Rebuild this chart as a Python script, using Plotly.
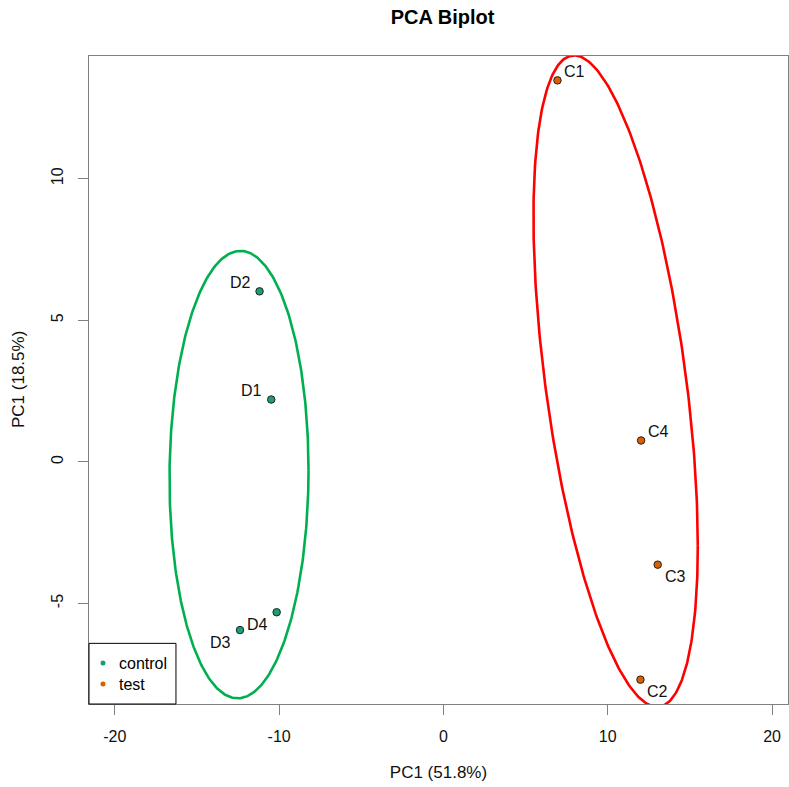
import numpy as np
import plotly.graph_objects as go

# ---- data ----
sample_names = ["C1", "C2", "C3", "C4", "D1", "D2", "D3", "D4"]
groups = ["test", "test", "test", "test", "control", "control", "control", "control"]
pc1 = [6.94, 11.99, 13.04, 12.03, -10.48, -11.19, -12.38, -10.15]
pc2 = [13.47, -7.69, -3.63, 0.755, 2.20, 6.02, -5.94, -5.31]
label_positions = ["top right", "bottom right", "bottom right", "top right",
                   "top left", "top left", "bottom left", "bottom left"]

group_names = ["control", "test"]
group_colors = {"control": "#1B9E77", "test": "#D95F02"}

# ellipse parameters: centre, half extents and correlation
ellipse_groups = ["control", "test"]
ellipse_cx = [-12.44, 10.48]
ellipse_cy = [-0.45, 2.85]
ellipse_sx = [4.23, 5.00]
ellipse_sy = [7.90, 11.50]
ellipse_r = [0.02, -0.505]
ellipse_colors = {"control": "#00B050", "test": "#FF0000"}

x_ticks = [-20, -10, 0, 10, 20]
y_ticks = [-5, 0, 5, 10]

FONT = "Liberation Sans, Arial, sans-serif"

fig = go.Figure()

# ellipses
t = np.linspace(0, 2 * np.pi, 361)
for g, cx, cy, sx, sy, r in zip(ellipse_groups, ellipse_cx, ellipse_cy,
                                ellipse_sx, ellipse_sy, ellipse_r):
    ex = cx + sx * np.cos(t)
    ey = cy + sy * (r * np.cos(t) + np.sqrt(1 - r * r) * np.sin(t))
    fig.add_trace(go.Scatter(x=ex, y=ey, mode="lines",
                             line=dict(color=ellipse_colors[g], width=2.6),
                             hoverinfo="skip", showlegend=False))

# points
for g in group_names:
    idx = [i for i, gg in enumerate(groups) if gg == g]
    fig.add_trace(go.Scatter(
        x=[pc1[i] for i in idx], y=[pc2[i] for i in idx],
        mode="markers",
        marker=dict(color=group_colors[g], size=7.5,
                    line=dict(color="#222222", width=1)),
        name=g, showlegend=False))

annotations = []
# point labels
for name, xx, yy, pos in zip(sample_names, pc1, pc2, label_positions):
    vert, horiz = pos.split()
    annotations.append(dict(
        x=xx, y=yy, xref="x", yref="y", text=name, showarrow=False,
        xanchor="left" if horiz == "right" else "right", yanchor="middle",
        xshift=5 if horiz == "right" else -7,
        yshift=9 if vert == "top" else -12,
        font=dict(family=FONT, size=16, color="#111111")))

# y axis title (R style, placed at the outer margin)
annotations.append(dict(xref="paper", yref="paper", x=0, y=0.5,
                        text="PC1 (18.5%)", showarrow=False, textangle=-90,
                        xanchor="center", yanchor="middle", xshift=-71,
                        font=dict(family=FONT, size=17, color="#111111")))

# manual legend (R style box in lower-left corner)
legend_w = 0.1244
legend_h = 0.0936
shapes = [dict(type="rect", xref="paper", yref="paper", x0=0, y0=0,
               x1=legend_w, y1=legend_h, line=dict(color="#000000", width=1),
               fillcolor="white", layer="above")]
legend_rows_y = [0.0632, 0.0308]
for g, yy in zip(group_names, legend_rows_y):
    shapes.append(dict(type="circle", xref="paper", yref="paper",
                       xsizemode="pixel", ysizemode="pixel",
                       xanchor=0.02, yanchor=yy,
                       x0=-2.5, x1=2.5, y0=-2.5, y1=2.5,
                       fillcolor=group_colors[g], line=dict(width=0),
                       layer="above"))
    annotations.append(dict(xref="paper", yref="paper", x=0.0434, y=yy,
                            text=g, showarrow=False, xanchor="left",
                            yanchor="middle", xshift=-2,
                            font=dict(family=FONT, size=16, color="#000000")))

axis_common = dict(showline=True, mirror=True, linecolor="#808080",
                   linewidth=1.3, ticks="outside", ticklen=10,
                   tickcolor="#808080", tickwidth=1.3, showgrid=False,
                   zeroline=False, tickfont=dict(family=FONT, size=16,
                                                 color="#111111"))

fig.update_layout(
    width=789, height=787,
    margin=dict(l=89, r=1, t=56, b=83),
    paper_bgcolor="white", plot_bgcolor="white",
    title=dict(text="<b>PCA Biplot</b>", x=0.561, xanchor="center",
               y=0.979, yanchor="middle",
               font=dict(family=FONT, size=20, color="#000000")),
    xaxis=dict(range=[-21.57, 20.97], tickvals=x_ticks,
               ticktext=[str(v) for v in x_ticks],
               title=dict(text="PC1 (51.8%)", standoff=21,
                          font=dict(family=FONT, size=17, color="#111111")),
               ticklabelstandoff=8,
               **axis_common),
    yaxis=dict(range=[-8.55, 14.33], tickvals=y_ticks,
               ticktext=[str(v) for v in y_ticks], tickangle=-90,
               ticklabelstandoff=8,
               **axis_common),
    shapes=shapes, annotations=annotations,
    showlegend=False,
)

fig.write_html("out.html", config={"displayModeBar": False},
               post_script="document.body.style.margin='0';")
